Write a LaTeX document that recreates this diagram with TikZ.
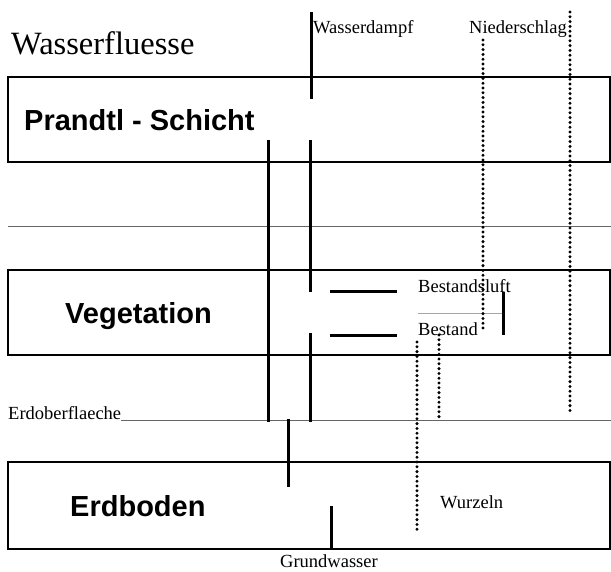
\documentclass[tikz,border=0pt]{standalone}
\usepackage{fontspec}
\setmainfont{Liberation Serif}
\setsansfont{Liberation Sans}
\usepackage{tikz}
\usetikzlibrary{positioning}

\begin{document}
\begin{tikzpicture}[x=1pt, y=-1pt,
    layer/.style={line width=1.3pt},
    ground/.style={line width=0.8pt, black!60},
    flux/.style={line width=3pt},
    rain/.style={line width=3.3pt, line cap=round, dash pattern=on 0pt off 4.8pt},
    small/.style={font=\fontsize{18.5}{20}\selectfont, inner sep=0pt, anchor=base west},
    big/.style={font=\sffamily\bfseries\fontsize{29}{32}\selectfont, inner sep=0pt, anchor=base west}]
      \useasboundingbox (0,0) rectangle (611,571);

      \node[inner sep=0pt, anchor=base west, font=\fontsize{32.5}{36}\selectfont] (title) at (11,54) {Wasserfluesse};

      \draw[layer] (8,77) rectangle (610,162);
      \node[big] (prandtl) at (24,130) {Prandtl - Schicht};

      \draw[ground] (8,226) -- (611,226);

      \draw[layer] (8,270) rectangle (610,355);
      \node[big] (veg) at (65,323) {Vegetation};

      \node[small] (eoberfl) at (8,419) {Erdoberflaeche};
      \draw[ground] (eoberfl.base east) ++(0,1) -- (611,420);

      \draw[layer] (8,462) rectangle (610,549);
      \node[big] (erdboden) at (70,516) {Erdboden};

      \node[small] (dampf) at (313,33) {Wasserdampf};
      \node[small] (nieder) at (469,33) {Niederschlag};
      \node[small] (bluft) at (418,292) {Bestandsluft};
      \node[small] (bestand) at (418,335) {Bestand};
      \node[small] (wurzeln) at (440,508) {Wurzeln};
      \node[small] (grundw) at (280,567) {Grundwasser};

      \draw[flux] (311,12) -- (311,99);
      \draw[flux] (268,140) -- (268,422);
      \draw[flux] (310,140) -- (310,292);
      \draw[flux] (310,333) -- (310,422);
      \draw[flux] (330,291) -- (397,291);
      \draw[flux] (330,335) -- (397,335);
      \draw[flux] (503,292) -- (503,335);
      \draw[flux] (288,419) -- (288,487);
      \draw[flux] (331,506) -- (331,550);

      \draw[line width=0.8pt, black!35] (418,313) -- (502,313);

      \draw[rain] (483,40) -- (483,328);
      \draw[rain] (570,12) -- (570,415);
      \draw[rain] (417,342) -- (417,530);
      \draw[rain] (439,335) -- (439,421);
    \end{tikzpicture}
\end{document}
